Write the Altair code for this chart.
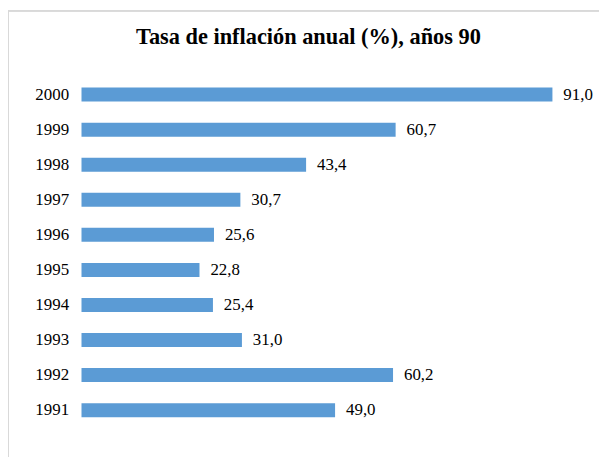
import altair as alt
import pandas as pd

years = ["1991", "1992", "1993", "1994", "1995", "1996", "1997", "1998", "1999", "2000"]
values = [49.0, 60.2, 31.0, 25.4, 22.8, 25.6, 30.7, 43.4, 60.7, 91.0]
labels = [f"{v:.1f}".replace(".", ",") for v in values]

df = pd.DataFrame({"year": years, "value": values, "label": labels})

FONT = "Times New Roman, Liberation Serif, serif"
order = list(reversed(years))

y_enc = alt.Y("year:N", sort=order, title=None,
              scale=alt.Scale(paddingInner=0.6, paddingOuter=0.3),
              axis=alt.Axis(domain=False, ticks=False, labelFont=FONT, labelFontSize=17,
                            labelColor="#000000", labelPadding=13))
x_enc = alt.X("value:Q", title=None, scale=alt.Scale(domain=[0, 100], nice=False),
              axis=None)

bars = alt.Chart(df).mark_bar(color="#5B9BD5").encode(y=y_enc, x=x_enc)
text = alt.Chart(df).mark_text(align="left", baseline="middle", dx=11, font=FONT,
                               fontSize=17, color="#000000").encode(
    y=alt.Y("year:N", sort=order), x="value:Q", text="label:N")

border_v = alt.Chart(df).mark_rule(color="#D9D9D9", strokeWidth=1).encode(
    x=alt.value(-73.5), y=alt.value(-67), y2=alt.value(400))
border_h = alt.Chart(df).mark_rule(color="#D9D9D9", strokeWidth=1).encode(
    y=alt.value(-66.8), x=alt.value(-73.5), x2=alt.value(540))

chart = alt.layer(border_v, border_h, bars, text).properties(
    width=521, height=353,
    title=alt.TitleParams("Tasa de inflación anual (%), años 90", font=FONT, fontSize=22.5,
                          fontWeight="bold", color="#000000", anchor="middle", frame="group",
                          dx=-32, baseline="alphabetic", offset=0, dy=57),
    autosize=alt.AutoSizeParams(type="none"),
    padding={"left": 74, "top": 68, "right": 0, "bottom": 30},
).configure_view(stroke=None)

chart.save("out.html", embed_options={"renderer": "svg", "actions": False})
